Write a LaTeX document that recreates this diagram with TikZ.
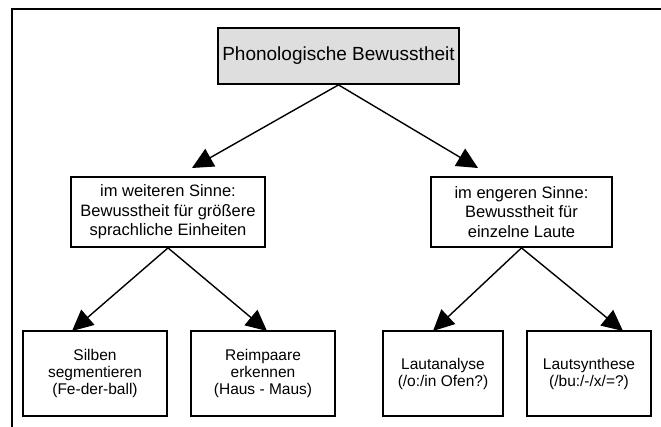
\documentclass[tikz,border=0pt]{standalone}
\usepackage{fontspec}
\setmainfont{Liberation Sans}
\usetikzlibrary{arrows.meta}
\begin{document}
\begin{tikzpicture}[x=1pt,y=-1pt,
  box/.style={draw=black,line width=1.8pt,fill=white,inner sep=0pt,align=center,anchor=center},
  titlebox/.style={box,fill=black!13,font=\fontsize{19}{22}\selectfont},
  midbox/.style={box,font=\fontsize{16.5}{19.5}\selectfont},
  lowbox/.style={box,font=\fontsize{15.5}{17}\selectfont},
  conn/.style={line width=1.4pt,-{Triangle[length=21pt,width=20pt]}},
  frame/.style={line width=1.6pt}]
\useasboundingbox (0,0) rectangle (661,427);
\coordinate (ftop) at (661,9);
\coordinate (fcorner) at (12,9);
\coordinate (fbot) at (12,427);
\draw[frame] (ftop) -- (fcorner) -- (fbot);

\node[titlebox,minimum width=241pt,minimum height=56pt] (top) at (338.5,56) {Phonologische Bewusstheit};

\node[midbox,minimum width=194pt,minimum height=70pt] (wide) at (168,212) {im weiteren Sinne:\\Bewusstheit für größere\\sprachliche Einheiten};
\node[midbox,minimum width=181pt,minimum height=70pt] (narrow) at (521.5,212) {im engeren Sinne:\\Bewusstheit für\\einzelne Laute};

\node[lowbox,minimum width=144pt,minimum height=85pt] (silben) at (95,373.5) {Silben\\segmentieren\\(Fe-der-ball)};
\node[lowbox,minimum width=144pt,minimum height=85pt] (reim) at (263,373.5) {Reimpaare\\erkennen\\(Haus - Maus)};
\node[lowbox,minimum width=120pt,minimum height=85pt] (analyse) at (443,373.5) {Lautanalyse\\(/o:/in Ofen?)};
\node[lowbox,minimum width=124pt,minimum height=85pt] (synthese) at (589,373.5) {Lautsynthese\\(/bu:/-/x/=?)};

\coordinate (t1) at (192,168);
\coordinate (t2) at (478,168);
\coordinate (t3) at (72,331);
\coordinate (t4) at (267,331);
\coordinate (t5) at (433,331);
\coordinate (t6) at (623,331);

\draw[conn] (top.south) -- (t1);
\draw[conn] (top.south) -- (t2);
\draw[conn] (wide.south) -- (t3);
\draw[conn] (wide.south) -- (t4);
\draw[conn] (narrow.south) -- (t5);
\draw[conn] (narrow.south) -- (t6);
\end{tikzpicture}
\end{document}
